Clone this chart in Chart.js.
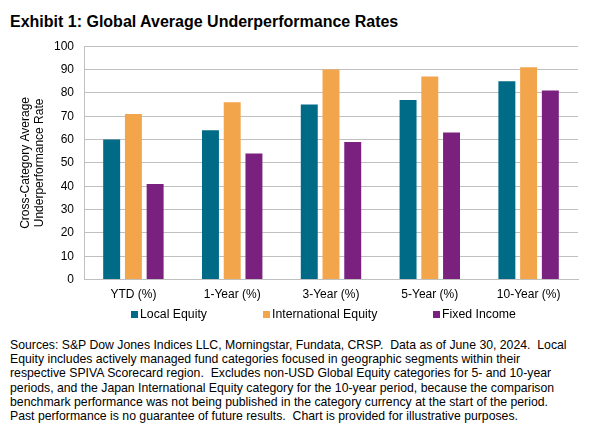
<!DOCTYPE html>
<html lang="en">
<head>
  <meta charset="UTF-8"/>
  <title>Exhibit 1</title>
  <script src="https://cdn.jsdelivr.net/npm/chart.js"></script>
  <style>
    body { margin: 0; width: 596px; height: 443px; background: #fff; font-family: Arial, "Liberation Sans", sans-serif; position: relative; overflow: hidden; }
    #title { position: absolute; left: 10px; top: 13px; font-size: 16px; font-weight: bold; color: #000; }
    #wrap { position: absolute; left: 0; top: 29px; width: 596px; height: 281px; }
    #legend { position: absolute; left: 0; top: 306px; width: 596px; height: 16px; font-size: 12.3px; color: #000; }
    #legend .item { position: absolute; top: 0; display: flex; align-items: center; height: 16px; white-space: nowrap; }
    #legend .box { width: 7px; height: 7px; margin-right: 2px; }
    #note { position: absolute; left: 10px; top: 338px; width: 586px; font-size: 12.25px; line-height: 14.2px; color: #000; white-space: nowrap; }
  </style>
</head>
<body>
  <div id="title">Exhibit 1: Global Average Underperformance Rates</div>
  <div id="wrap"><canvas id="chart"></canvas></div>
  <div id="legend"></div>
  <div id="note">Sources: S&amp;P Dow Jones Indices LLC, Morningstar, Fundata, CRSP.&nbsp; Data as of June 30, 2024.&nbsp; Local<br>Equity includes actively managed fund categories focused in geographic segments within their<br>respective SPIVA Scorecard region.&nbsp; Excludes non-USD Global Equity categories for 5- and 10-year<br>periods, and the Japan International Equity category for the 10-year period, because the comparison<br>benchmark performance was not being published in the category currency at the start of the period.<br>Past performance is no guarantee of future results.&nbsp; Chart is provided for illustrative purposes.</div>

  <script>
    const periods = ['YTD (%)', '1-Year (%)', '3-Year (%)', '5-Year (%)', '10-Year (%)'];
    const localEquity = [60, 64, 75, 77, 85];
    const intlEquity = [71, 76, 90, 87, 91];
    const fixedIncome = [41, 54, 59, 63, 81];
    const yTicks = [0, 10, 20, 30, 40, 50, 60, 70, 80, 90, 100];

    const font = { family: 'Arial, "Liberation Sans", sans-serif', size: 12 };
    const gridColor = '#c0c0c0';

    function ds(label, data, color) {
      return {
        label, data,
        backgroundColor: color,
        borderWidth: 0,
        categoryPercentage: 0.66,
        barPercentage: 0.78
      };
    }

    const chart = new Chart(document.getElementById('chart'), {
      type: 'bar',
      data: {
        labels: periods,
        datasets: [
          ds('Local Equity', localEquity, '#006b86'),
          ds('International Equity', intlEquity, '#f2a54a'),
          ds('Fixed Income', fixedIncome, '#7a2180')
        ]
      },
      options: {
        responsive: true,
        maintainAspectRatio: false,
        animation: false,
        layout: { padding: { top: 2, right: 18, bottom: 0, left: 18 } },
        scales: {
          x: {
            grid: { display: false, drawTicks: false },
            border: { color: gridColor },
            ticks: { color: '#000', font, padding: 8, maxRotation: 0 }
          },
          y: {
            min: 0, max: 100,
            afterBuildTicks: axis => { axis.ticks = yTicks.map(v => ({ value: v })); },
            grid: { color: gridColor, drawTicks: false },
            border: { color: gridColor },
            ticks: { color: '#000', font, padding: 10 },
            title: {
              display: true,
              text: ['Cross-Category Average', 'Underperformance Rate'],
              color: '#000', font, padding: { top: 0, bottom: 4 }
            },
            afterFit: axis => { axis.width = 66; }
          }
        },
        plugins: {
          legend: { display: false },
          tooltip: { enabled: false }
        }
      }
    });

    // legend built from the chart's datasets
    const legendLeft = [131, 263, 433];
    document.getElementById('legend').innerHTML = chart.data.datasets.map((d, i) =>
      `<div class="item" style="left:${legendLeft[i]}px"><span class="box" style="background:${d.backgroundColor}"></span>${d.label}</div>`
    ).join('');
  </script>
</body>
</html>
